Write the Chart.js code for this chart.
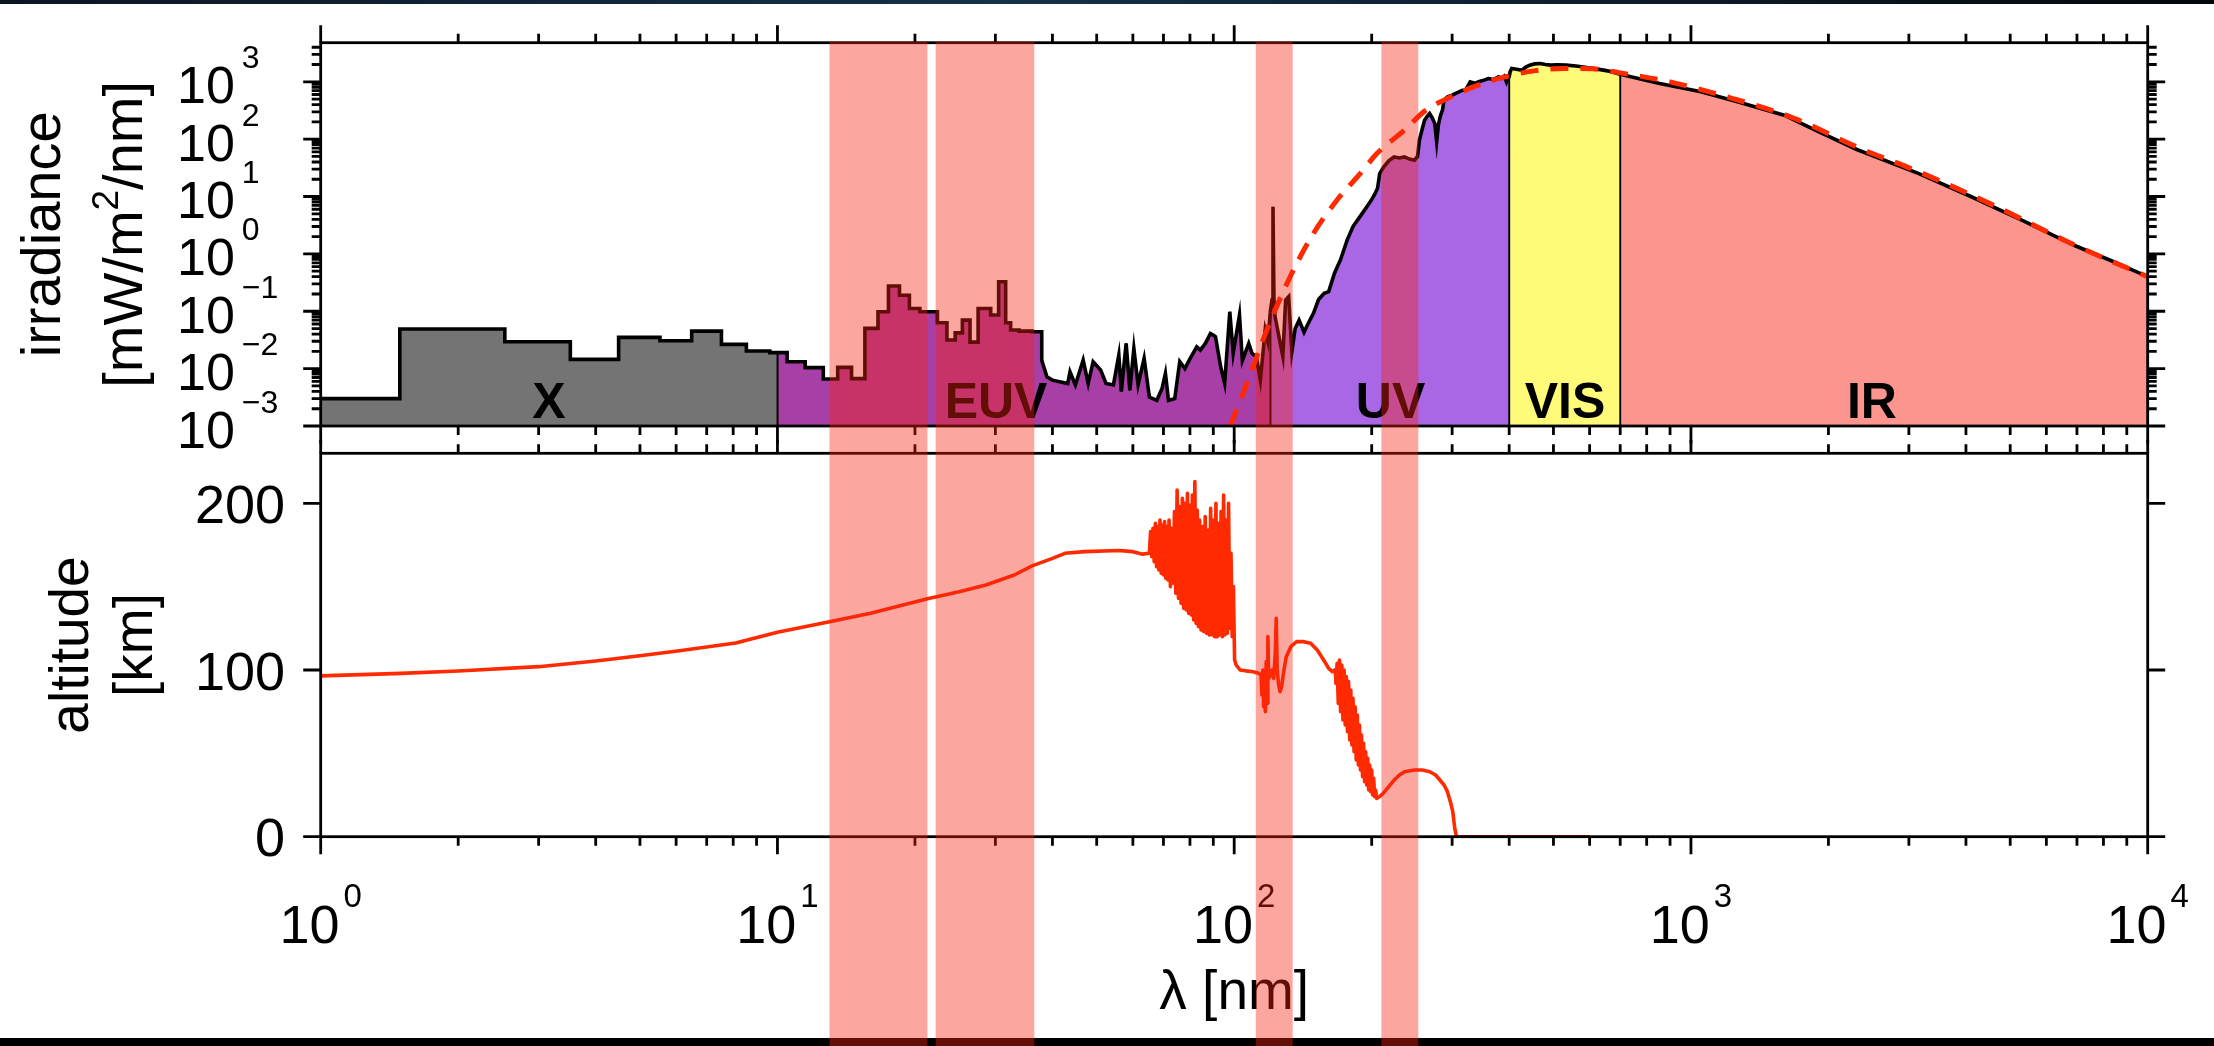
<!DOCTYPE html>
<html>
<head>
<meta charset="utf-8">
<script src="https://cdn.jsdelivr.net/npm/chart.js@4.4.1/dist/chart.umd.min.js"></script>
<style>
  html, body { margin: 0; padding: 0; background: #fff; width: 2214px; height: 1046px; overflow: hidden; }
  #wrap { position: relative; width: 2214px; height: 1046px; background: #fff; }
  canvas { position: absolute; left: 0; }
  #irrCanvas { top: 0; }
  #altCanvas { top: 440px; }
</style>
</head>
<body>
<div id="wrap">
  <canvas id="irrCanvas" width="2214" height="460"></canvas>
  <canvas id="altCanvas" width="2214" height="606"></canvas>
</div>
<script>
// ---------- axis ranges and tick labels ----------
const X_MIN = 1, X_MAX = 1e4;
const IRR_MIN = 1e-3, IRR_MAX = 4800;
const ALT_MIN = 0, ALT_MAX = 230;
const xTickExps = [0, 1, 2, 3, 4];
const irrTickExps = [-3, -2, -1, 0, 1, 2, 3];
const altTicks = [0, 100, 200];

// ---------- spectral regions ----------
const regionNames = ['X', 'EUV', 'UV', 'VIS', 'IR'];
const regionEdgesNm = [1, 10, 120, 400, 700, 10000];
const regionColors = ['#747474', '#a83fa6', '#a966e5', '#fffb78', '#fd958f'];
const regionLabelNm = [3.16, 30.1, 220, 530, 2490];

// ---------- highlighted absorption bands [nm] ----------
const bandStartNm = [13.0, 22.2, 111.5, 210];
const bandEndNm = [21.3, 36.5, 134.3, 253];

// ---------- solar irradiance, binned part (bin edges in nm, mW/m^2/nm) ----------
const binEdgesNm = [1, 1.49, 2.53, 3.52, 4.49, 5.53, 6.49, 7.54, 8.55, 9.62, 10, 10.5, 11.5, 12.6,
  13.55, 14.53, 15.54, 16.6, 17.5, 18.5, 19.45, 20.5, 22.4, 23.5, 24.5, 25.4, 26.4, 27.5, 29.3,
  30.5, 31.6, 32.4, 33.8, 36.1, 37.9];
const binIrradiance = [0.0030, 0.049, 0.0294, 0.0145, 0.035, 0.0306, 0.045, 0.0265, 0.0203, 0.019,
  0.019, 0.0132, 0.0104, 0.0066, 0.0105, 0.0067, 0.0503, 0.098, 0.275, 0.19, 0.112, 0.098, 0.063,
  0.0316, 0.042, 0.070, 0.029, 0.112, 0.086, 0.327, 0.063, 0.047, 0.045, 0.044];

// ---------- solar irradiance, resolved part [nm, mW/m^2/nm] ----------
const spectrumNmIrr = [
  [37.9, 0.014], [38.9, 0.0072], [40.0, 0.0063], [41.0, 0.0060], [43.2, 0.0055], [43.7, 0.0088],
  [44.9, 0.0052], [46.7, 0.0141], [47.9, 0.0055], [49.1, 0.0132], [51.0, 0.0095], [52.4, 0.0055],
  [54.4, 0.0052], [55.9, 0.0173], [56.6, 0.0040], [58.0, 0.0276], [59.1, 0.0042], [60.3, 0.0226],
  [61.6, 0.0052], [63.5, 0.0151], [65.2, 0.0032], [67.7, 0.0028], [69.5, 0.0045], [70.7, 0.0083],
  [71.8, 0.0028], [74.1, 0.0030], [76.0, 0.0132], [78.0, 0.0100], [80.1, 0.0151], [82.8, 0.024],
  [84.3, 0.0211], [86.5, 0.0276], [88.7, 0.041], [90.1, 0.038], [91.0, 0.036], [93.4, 0.0108],
  [95.3, 0.0055], [97.8, 0.098], [99.5, 0.0185], [102.7, 0.086], [104.2, 0.0138], [107.6, 0.0276],
  [109.4, 0.0185], [111.8, 0.0162], [114.1, 0.0063], [116.9, 0.047], [118.5, 0.030], [120, 0.10],
  [121.0, 0.157], [121.6, 6.6], [122.2, 0.157], [122.9, 0.080], [125.3, 0.036], [127.8, 0.0162],
  [129.6, 0.157], [131.6, 0.18], [133.7, 0.0197], [136, 0.05], [138.7, 0.070], [142.2, 0.043],
  [145, 0.06], [149.1, 0.092], [153, 0.16], [157.4, 0.205], [161, 0.22], [165.8, 0.46], [171, 0.8],
  [176.7, 1.74], [182, 3.0], [188.7, 4.5], [194, 6.2], [199.4, 8.5], [203.5, 11.3], [206, 14],
  [208.2, 25], [212.6, 33], [218, 42], [223.9, 49], [230, 47], [235.7, 49], [242, 45], [248, 43],
  [252, 50], [254.4, 96], [258, 150], [261.1, 214], [264.5, 250], [267.9, 280], [271, 240],
  [274.9, 187], [277.5, 90], [280, 180], [283, 260], [285.7, 320], [288, 478], [293.1, 546],
  [300, 585], [304.7, 623], [316, 714], [320.9, 714], [328.6, 995], [337.8, 933], [341.8, 995],
  [350, 1050], [360, 1140], [370, 1100], [379, 1218], [385, 1150], [390, 1250], [394.5, 995],
  [397, 1150], [400, 1218], [402, 1500], [405, 1700], [415, 1650], [426.6, 1590], [435, 1800],
  [443.6, 1950], [455, 2050], [467.7, 2080], [480, 2000], [492.8, 1950], [510, 1980], [533, 1950],
  [560, 1880], [592, 1775], [620, 1680], [657, 1550], [700, 1355], [854, 933], [1052, 668],
  [1264, 447], [1600, 262], [1872, 143], [2307, 66], [3156, 25], [4100, 10], [5328, 3.8],
  [6918, 1.4], [8530, 0.70], [10000, 0.40]
];

// ---------- blackbody reference curve [nm, mW/m^2/nm] ----------
const blackbodyNmIrr = [
  [98, 0.001], [106.6, 0.0055], [117.9, 0.047], [132.6, 0.40], [149.1, 2.27], [167.8, 8.6],
  [188.7, 25], [205.3, 56], [237, 148], [261.6, 311], [298.3, 546], [341.8, 873], [391.5, 1219],
  [453, 1550], [526, 1700], [608, 1680], [700, 1430], [900, 995], [1230, 515], [1687, 229],
  [2307, 73], [3155, 27], [4676, 6.6], [6920, 1.42], [10000, 0.40]
];

// ---------- penetration altitude [nm, km] ----------
const altitudeNmKm = [
  [1, 96.5], [1.5, 98], [2, 99.4], [3, 102], [4, 105.4], [5, 108.5], [6.1, 111.5], [8.1, 116.2],
  [10, 122.7], [13, 128.9], [16, 134], [21.3, 142.8], [25, 147], [28.6, 151], [33, 157],
  [36.1, 162.5], [40, 167], [42.6, 170], [47, 171], [55.9, 171.7], [60, 171], [63, 169.5], [65.2, 170],
  [65.6, 183], [66.0, 168], [66.4, 185], [66.8, 165], [67.2, 188], [67.6, 162], [68.0, 186],
  [68.4, 160], [68.8, 190], [69.2, 158], [69.6, 187], [70.0, 157], [70.4, 189], [70.8, 155],
  [71.2, 186], [71.6, 154], [72.0, 190], [72.5, 150], [73.0, 185], [73.5, 152], [74.0, 195],
  [74.5, 146], [75.0, 208], [75.5, 143], [76.0, 198], [76.5, 140], [77.0, 203], [77.5, 137],
  [78.0, 200], [78.5, 136], [79.0, 206], [79.5, 134], [80.0, 199], [80.5, 133], [81.0, 205],
  [81.5, 130], [82.0, 213], [82.5, 128], [83.0, 196], [83.5, 126], [84.0, 190], [84.6, 124],
  [85.2, 186], [85.8, 123], [86.4, 192], [87.0, 122], [87.6, 184], [88.2, 121], [88.8, 197],
  [89.4, 121], [90.0, 190], [90.6, 120], [91.2, 200], [91.8, 120], [92.4, 188], [93.0, 121],
  [93.6, 195], [94.2, 120], [94.8, 205], [95.4, 121], [96.0, 190], [96.6, 122], [97.2, 200],
  [97.8, 125], [98.4, 170], [99.0, 120], [99.6, 150], [100.2, 106],
  [101, 103], [103, 100], [106, 99.5], [110, 99], [113, 98], [114.5, 97], [115, 85], [115.5, 100],
  [116, 78], [116.5, 97], [117, 75], [117.5, 105], [118, 80], [118.5, 120], [119, 95], [120, 97],
  [121, 100], [122, 95], [123, 110], [123.6, 131], [124.2, 100], [125, 92], [126, 87], [127, 90],
  [128.5, 100], [130, 108], [133, 114], [137, 117], [142, 117], [147, 116], [152, 112], [157, 106],
  [161, 101], [164, 99], [166, 100],
  [166.5, 99], [167, 92], [168, 104], [169, 80], [170, 106], [171, 75], [172, 103], [173, 70],
  [174, 100], [175, 67], [176, 96], [177, 63], [178, 93], [179, 58], [180, 88], [181, 55],
  [182, 83], [183, 51], [184, 78], [185, 46], [186, 73], [187, 43], [188, 67], [189, 40],
  [190, 61], [191, 36], [192, 56], [193, 33], [194, 51], [195, 31], [196, 47], [197, 28],
  [198, 43], [199, 27], [200, 40], [201, 25], [202, 35], [203, 24], [204, 28], [205, 23],
  [208, 24], [212, 26], [218, 30], [224, 34], [230, 37], [236, 39], [248, 40], [258, 40],
  [268, 39], [276, 37], [282, 34], [288, 31], [293, 27], [298, 20], [301, 15], [304, 5],
  [306.6, 0], [600, 0]
];

// ---------- build chart points ----------
const spectrumPoints = [];
binIrradiance.forEach((v, i) => {
  spectrumPoints.push({ x: binEdgesNm[i], y: v }, { x: binEdgesNm[i + 1], y: v });
});
spectrumNmIrr.forEach(([w, v]) => spectrumPoints.push({ x: w, y: v }));

const regionDatasets = regionNames.map((name, i) => {
  const lo = regionEdgesNm[i], hi = regionEdgesNm[i + 1];
  const pts = spectrumPoints.filter(p => p.x >= lo && p.x <= hi);
  return {
    label: name,
    data: [{ x: lo, y: IRR_MIN }, ...pts, { x: hi, y: IRR_MIN }],
    borderColor: '#000', borderWidth: 1.8, backgroundColor: regionColors[i],
    fill: 'start', pointRadius: 0, order: 2
  };
});

const FONT = '"Liberation Sans", Arial, Helvetica, sans-serif';
const MAJOR = 17.5, MINOR = 9, AXIS_W = 2.8;
const BAND_FILL = 'rgba(245,35,15,0.40)';
const SPLIT_Y = 440;   // page row where the lower canvas begins

function xTickList() {
  const list = [];
  xTickExps.forEach((e, i) => {
    list.push({ v: Math.pow(10, e), len: MAJOR });
    if (i < xTickExps.length - 1) {
      for (let k = 2; k <= 9; k++) list.push({ v: k * Math.pow(10, e), len: MINOR });
    }
  });
  return list;
}
function irrTickList() {
  const list = [];
  irrTickExps.forEach(e => {
    list.push({ v: Math.pow(10, e), len: MAJOR });
    for (let k = 2; k <= 9; k++) {
      const v = k * Math.pow(10, e);
      if (v <= IRR_MAX) list.push({ v, len: MINOR });
    }
  });
  return list;
}
// "10" with a raised exponent
function powerLabel(ctx, exp, x, baseline, mainPx, supPx, rise, gap, align) {
  const sup = exp < 0 ? '\u2212' + Math.abs(exp) : String(exp);
  ctx.font = mainPx + 'px ' + FONT;
  const w1 = ctx.measureText('10').width;
  ctx.font = supPx + 'px ' + FONT;
  const w2 = ctx.measureText(sup).width;
  const x0 = align === 'center' ? x - (w1 + gap + w2) / 2 : x;
  ctx.textAlign = 'left';
  ctx.textBaseline = 'alphabetic';
  ctx.font = mainPx + 'px ' + FONT;
  ctx.fillText('10', x0, baseline);
  ctx.font = supPx + 'px ' + FONT;
  ctx.fillText(sup, x0 + w1 + gap, baseline - rise);
}
// vertical axis title, reading bottom to top, baseline at xBase
function rotatedText(ctx, xBase, cy, parts) {
  ctx.save();
  ctx.translate(xBase, cy);
  ctx.rotate(-Math.PI / 2);
  let total = 0;
  parts.forEach(p => { ctx.font = p.px + 'px ' + FONT; p.w = ctx.measureText(p.text).width; total += p.w; });
  let x = -total / 2;
  ctx.textAlign = 'left';
  ctx.textBaseline = 'alphabetic';
  parts.forEach(p => { ctx.font = p.px + 'px ' + FONT; ctx.fillText(p.text, x, -(p.rise || 0)); x += p.w; });
  ctx.restore();
}
function drawBands(chart, yTop, yBottom) {
  const ctx = chart.ctx, xs = chart.scales.x;
  ctx.save();
  ctx.fillStyle = BAND_FILL;
  bandStartNm.forEach((lo, i) => {
    const a = xs.getPixelForValue(lo), b = xs.getPixelForValue(bandEndNm[i]);
    ctx.fillRect(a, yTop, b - a, yBottom - yTop);
  });
  ctx.restore();
}

// ---------- upper panel: irradiance ----------
const irrDecor = {
  id: 'irrDecor',
  beforeDraw(chart) {
    const ctx = chart.ctx;
    ctx.save();
    ctx.fillStyle = '#fff';
    ctx.fillRect(0, 0, chart.width, chart.height);
    const g = ctx.createLinearGradient(0, 0, chart.width, 0);
    g.addColorStop(0, '#0b1522'); g.addColorStop(0.45, '#16314a'); g.addColorStop(1, '#04070c');
    ctx.fillStyle = g;
    ctx.fillRect(0, 0, chart.width, 4);
    ctx.restore();
  },
  afterDatasetsDraw(chart) {
    const ctx = chart.ctx, ca = chart.chartArea, xs = chart.scales.x, ys = chart.scales.y;
    ctx.save();
    ctx.fillStyle = '#000';
    ctx.font = 'bold 50px ' + FONT;
    ctx.textAlign = 'center';
    ctx.textBaseline = 'alphabetic';
    regionNames.forEach((n, i) => ctx.fillText(n, xs.getPixelForValue(regionLabelNm[i]), ca.bottom - 8));

    ctx.strokeStyle = '#000';
    ctx.lineWidth = AXIS_W;
    ctx.strokeRect(ca.left, ca.top, ca.right - ca.left, ca.bottom - ca.top);
    ctx.beginPath();
    xTickList().forEach(t => {
      const p = xs.getPixelForValue(t.v);
      ctx.moveTo(p, ca.top); ctx.lineTo(p, ca.top - t.len);
      ctx.moveTo(p, ca.bottom); ctx.lineTo(p, ca.bottom + t.len);
    });
    irrTickList().forEach(t => {
      const p = ys.getPixelForValue(t.v);
      ctx.moveTo(ca.left, p); ctx.lineTo(ca.left - t.len, p);
      ctx.moveTo(ca.right, p); ctx.lineTo(ca.right + t.len, p);
    });
    ctx.stroke();

    ctx.fillStyle = '#000';
    irrTickExps.forEach(e => powerLabel(ctx, e, 177, ys.getPixelForValue(Math.pow(10, e)) + 21.6, 52, 32, 35, 7, 'left'));

    const cy = (ca.top + ca.bottom) / 2;
    rotatedText(ctx, 60, cy, [{ text: 'irradiance', px: 56 }]);
    rotatedText(ctx, 142, cy, [
      { text: '[mW/m', px: 56 }, { text: '2', px: 37, rise: 24 }, { text: '/nm]', px: 56 }
    ]);
    ctx.restore();
  },
  afterDraw(chart) { drawBands(chart, chart.chartArea.top - 1, SPLIT_Y); }
};

new Chart(document.getElementById('irrCanvas'), {
  type: 'line',
  data: {
    datasets: [
      {
        label: 'blackbody', data: blackbodyNmIrr.map(([x, y]) => ({ x, y })),
        borderColor: '#ff2a00', borderWidth: 5, borderDash: [18, 12], fill: false,
        pointRadius: 0, cubicInterpolationMode: 'monotone', order: 0
      },
      {
        label: 'irradiance', data: spectrumPoints,
        borderColor: '#000', borderWidth: 3.6, fill: false, pointRadius: 0,
        borderJoinStyle: 'miter', order: 1
      },
      ...regionDatasets
    ]
  },
  options: {
    responsive: false, animation: false, events: [],
    layout: { padding: { left: 320.7, right: 66.3, top: 42.7, bottom: 34 } },
    plugins: { legend: { display: false }, tooltip: { enabled: false } },
    scales: {
      x: { type: 'logarithmic', min: X_MIN, max: X_MAX, display: false },
      y: { type: 'logarithmic', min: IRR_MIN, max: IRR_MAX, display: false }
    }
  },
  plugins: [irrDecor]
});

// ---------- lower panel: altitude ----------
const altDecor = {
  id: 'altDecor',
  beforeDraw(chart) {
    const ctx = chart.ctx;
    ctx.save();
    ctx.fillStyle = '#000';
    ctx.fillRect(0, 598, chart.width, chart.height - 598);
    ctx.restore();
  },
  afterDatasetsDraw(chart) {
    const ctx = chart.ctx, ca = chart.chartArea, xs = chart.scales.x, ys = chart.scales.y;
    ctx.save();
    ctx.strokeStyle = '#000';
    ctx.lineWidth = AXIS_W;
    ctx.strokeRect(ca.left, ca.top, ca.right - ca.left, ca.bottom - ca.top);
    ctx.beginPath();
    xTickList().forEach(t => {
      const p = xs.getPixelForValue(t.v);
      ctx.moveTo(p, ca.top); ctx.lineTo(p, ca.top - t.len);
      ctx.moveTo(p, ca.bottom); ctx.lineTo(p, ca.bottom + t.len);
    });
    altTicks.forEach(v => {
      const p = ys.getPixelForValue(v);
      ctx.moveTo(ca.left, p); ctx.lineTo(ca.left - MAJOR, p);
      ctx.moveTo(ca.right, p); ctx.lineTo(ca.right + MAJOR, p);
    });
    ctx.stroke();

    ctx.fillStyle = '#000';
    ctx.font = '54px ' + FONT;
    ctx.textAlign = 'right';
    ctx.textBaseline = 'alphabetic';
    altTicks.forEach(v => ctx.fillText(String(v), 285, ys.getPixelForValue(v) + 19.5));

    xTickExps.forEach(e => powerLabel(ctx, e, xs.getPixelForValue(Math.pow(10, e)), 502.8, 54, 33, 36, 4, 'center'));

    ctx.font = '55px ' + FONT;
    ctx.textAlign = 'center';
    ctx.fillText('\u03bb [nm]', (ca.left + ca.right) / 2, 569);

    const cy = (ca.top + ca.bottom) / 2;
    rotatedText(ctx, 88, cy, [{ text: 'altitude', px: 55 }]);
    rotatedText(ctx, 152, cy, [{ text: '[km]', px: 55 }]);
    ctx.restore();
  },
  afterDraw(chart) { drawBands(chart, 0, chart.height); }
};

new Chart(document.getElementById('altCanvas'), {
  type: 'line',
  data: {
    datasets: [{
      label: 'altitude', data: altitudeNmKm.map(([x, y]) => ({ x, y })),
      borderColor: '#ff2a00', borderWidth: 3.6, fill: false, pointRadius: 0,
      borderJoinStyle: 'round'
    }]
  },
  options: {
    responsive: false, animation: false, events: [],
    layout: { padding: { left: 320.7, right: 66.3, top: 13.3, bottom: 209.3 } },
    plugins: { legend: { display: false }, tooltip: { enabled: false } },
    scales: {
      x: { type: 'logarithmic', min: X_MIN, max: X_MAX, display: false },
      y: { type: 'linear', min: ALT_MIN, max: ALT_MAX, display: false }
    }
  },
  plugins: [altDecor]
});
</script>
</body>
</html>
